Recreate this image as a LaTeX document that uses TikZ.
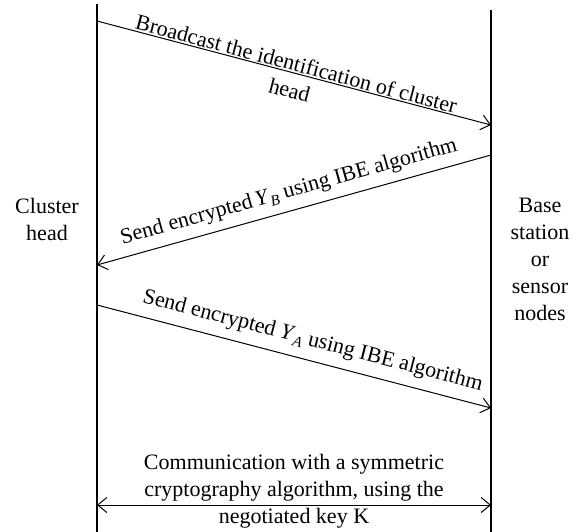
\documentclass[tikz,border=0pt]{standalone}
\usepackage{fontspec}
\setmainfont{Liberation Serif}
\usetikzlibrary{arrows.meta}
\newcommand\subvar[2]{\textit{#1}\raisebox{-0.18em}{\fontsize{15}{15}\selectfont\textit{#2}}}
\begin{document}
\begin{tikzpicture}[x=1pt,y=-1pt,
  >={Straight Barb[length=9pt,width=15pt]},
  lbl/.style={font=\fontsize{22}{27}\selectfont, align=center, inner sep=0pt},
  msg/.style={line width=1pt},
  life/.style={line width=1.2pt}]
\useasboundingbox (0,0) rectangle (584,532);
% lifelines
\coordinate (Ltop) at (97,4);  \coordinate (Lbot) at (97,532);
\coordinate (Rtop) at (491,10); \coordinate (Rbot) at (491,532);
\draw[life] (Ltop) -- (Lbot);
\draw[life] (Rtop) -- (Rbot);
% participants
\node[lbl] (ch) at (47,219) {Cluster\\head};
\node[lbl] (bs) at (540,259) {Base\\station\\or\\sensor\\nodes};
% message 1
\coordinate (m1s) at (97,21); \coordinate (m1e) at (491,125);
\draw[msg,->] (m1s) -- node[lbl, sloped, midway, yshift=-4pt] (t1) {Broadcast the identification of cluster\\head} (m1e);
% message 2
\coordinate (m2s) at (491,155); \coordinate (m2e) at (97,265);
\draw[msg,->] (m2s) -- node[lbl, sloped, midway, above=8pt] (t2) {Send encrypted\,\subvar{Y}{B} using IBE algorithm} (m2e);
% message 3
\coordinate (m3s) at (97,305); \coordinate (m3e) at (491,408);
\draw[msg,->] (m3s) -- node[lbl, sloped, pos=0.535, above=9pt] (t3) {Send encrypted \subvar{Y}{A} using IBE algorithm} (m3e);
% symmetric communication
\coordinate (b1) at (97,505); \coordinate (b2) at (491,505);
\draw[msg,<->] (b1) -- (b2);
\node[lbl] (comm) at (294,491) {Communication with a symmetric\\cryptography algorithm, using the\\negotiated key K};
\end{tikzpicture}
\end{document}
